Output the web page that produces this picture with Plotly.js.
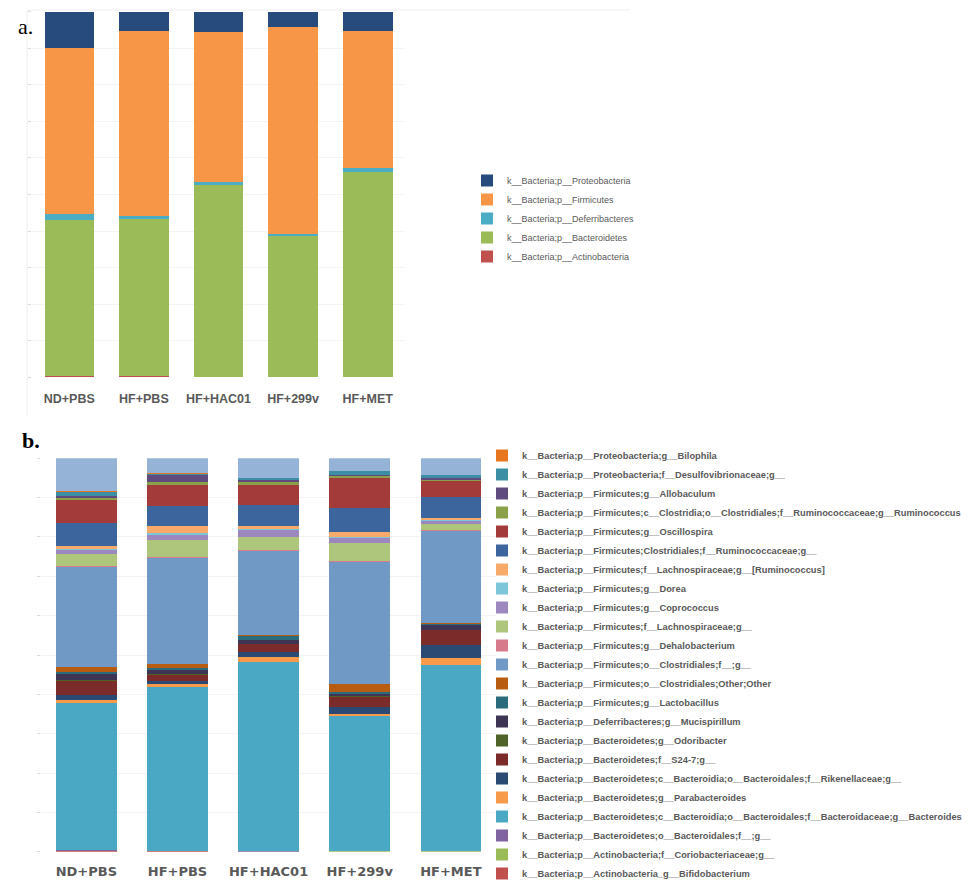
<!DOCTYPE html>
<html>
<head>
<meta charset="utf-8">
<script src="https://cdn.plot.ly/plotly-3.0.1.min.js"></script>
<style>html,body{margin:0;padding:0;background:#fff;}#chart{width:976px;height:888px;}</style>
</head>
<body>
<div id="chart"></div>
<script>
// ---------- DATA ----------
const categories = ["ND+PBS", "HF+PBS", "HF+HAC01", "HF+299v", "HF+MET"];

// Panel a (phylum level, % relative abundance), bottom -> top of stack
const phylumNames = [
  "k__Bacteria;p__Actinobacteria",
  "k__Bacteria;p__Bacteroidetes",
  "k__Bacteria;p__Deferribacteres",
  "k__Bacteria;p__Firmicutes",
  "k__Bacteria;p__Proteobacteria"
];
const actinobacteria  = [0.3, 0.3, 0.0, 0.0, 0.0];
const bacteroidetes   = [42.7, 43.0, 52.6, 38.7, 56.1];
const deferribacteres = [1.6, 0.8, 0.8, 0.6, 1.2];
const firmicutes      = [45.4, 50.6, 41.0, 56.6, 37.5];
const proteobacteria  = [10.0, 5.3, 5.6, 4.1, 5.2];

// Panel b (genus level), bottom -> top of stack
const genusNames = [
  "k__Bacteria;p__Actinobacteria_g__Bifidobacterium",
  "k__Bacteria;p__Actinobacteria;f__Coriobacteriaceae;g__",
  "k__Bacteria;p__Bacteroidetes;o__Bacteroidales;f__;g__",
  "k__Bacteria;p__Bacteroidetes;c__Bacteroidia;o__Bacteroidales;f__Bacteroidaceae;g__Bacteroides",
  "k__Bacteria;p__Bacteroidetes;g__Parabacteroides",
  "k__Bacteria;p__Bacteroidetes;c__Bacteroidia;o__Bacteroidales;f__Rikenellaceae;g__",
  "k__Bacteria;p__Bacteroidetes;f__S24-7;g__",
  "k__Bacteria;p__Bacteroidetes;g__Odoribacter",
  "k__Bacteria;p__Deferribacteres;g__Mucispirillum",
  "k__Bacteria;p__Firmicutes;g__Lactobacillus",
  "k__Bacteria;p__Firmicutes;o__Clostridiales;Other;Other",
  "k__Bacteria;p__Firmicutes;o__Clostridiales;f__;g__",
  "k__Bacteria;p__Firmicutes;g__Dehalobacterium",
  "k__Bacteria;p__Firmicutes;f__Lachnospiraceae;g__",
  "k__Bacteria;p__Firmicutes;g__Coprococcus",
  "k__Bacteria;p__Firmicutes;g__Dorea",
  "k__Bacteria;p__Firmicutes;f__Lachnospiraceae;g__[Ruminococcus]",
  "k__Bacteria;p__Firmicutes;Clostridiales;f__Ruminococcaceae;g__",
  "k__Bacteria;p__Firmicutes;g__Oscillospira",
  "k__Bacteria;p__Firmicutes;c__Clostridia;o__Clostridiales;f__Ruminococcaceae;g__Ruminococcus",
  "k__Bacteria;p__Firmicutes;g__Allobaculum",
  "k__Bacteria;p__Proteobacteria;f__Desulfovibrionaceae;g__",
  "k__Bacteria;p__Proteobacteria;g__Bilophila",
  "Other"
];
const bifidobacterium     = [0.2, 0.1, 0.0, 0.0, 0.0];
const coriobacteriaceae   = [0.1, 0.1, 0.0, 0.1, 0.1];
const bacteroidalesFG     = [0.1, 0.1, 0.1, 0.2, 0.1];
const bacteroides         = [37.5, 41.6, 48.1, 34.2, 47.3];
const parabacteroides     = [0.7, 0.8, 1.3, 0.5, 1.7];
const rikenellaceae       = [1.3, 0.8, 1.2, 1.7, 3.4];
const s24_7               = [3.6, 1.5, 2.1, 2.7, 3.7];
const odoribacter         = [0.1, 0.1, 0.1, 0.1, 0.1];
const mucispirillum       = [1.5, 1.1, 0.8, 0.6, 1.1];
const lactobacillus       = [0.6, 0.6, 1.1, 0.5, 0.4];
const clostridialesOther  = [1.3, 0.8, 0.4, 2.0, 0.2];
const clostridialesFG     = [25.4, 27.0, 21.2, 31.0, 23.3];
const dehalobacterium     = [0.2, 0.2, 0.2, 0.2, 0.4];
const lachnospiraceaeG    = [3.1, 4.5, 3.4, 4.7, 1.5];
const coprococcus         = [1.1, 1.3, 1.7, 1.3, 0.8];
const dorea               = [0.2, 0.4, 0.4, 0.2, 0.2];
const lachnoRuminococcus  = [0.6, 1.9, 0.8, 1.3, 0.4];
const ruminococcaceaeG    = [5.9, 5.1, 5.3, 6.1, 5.5];
const oscillospira        = [5.8, 5.3, 5.1, 7.6, 4.0];
const ruminococcus        = [0.5, 0.7, 0.7, 0.4, 0.4];
const allobaculum         = [0.7, 1.7, 0.4, 0.3, 0.3];
const desulfovibrionaceae = [1.0, 0.4, 0.6, 1.0, 0.8];
const bilophila           = [0.2, 0.1, 0.1, 0.1, 0.1];
const otherTop            = [8.3, 3.8, 4.9, 3.2, 4.2];

// ---------- STYLE ----------
const phylumSeries = [actinobacteria, bacteroidetes, deferribacteres, firmicutes, proteobacteria];
const phylumColors = ["#C0504D", "#9BBB59", "#4BACC6", "#F79646", "#264B7C"];

const genusSeries = [bifidobacterium, coriobacteriaceae, bacteroidalesFG, bacteroides, parabacteroides,
  rikenellaceae, s24_7, odoribacter, mucispirillum, lactobacillus, clostridialesOther, clostridialesFG,
  dehalobacterium, lachnospiraceaeG, coprococcus, dorea, lachnoRuminococcus, ruminococcaceaeG,
  oscillospira, ruminococcus, allobaculum, desulfovibrionaceae, bilophila, otherTop];
const genusColors = ["#C0504D", "#9BBB59", "#8064A2", "#4BA8C5", "#F79A4A",
  "#2A4A73", "#7A2B2A", "#4F6228", "#3E3554", "#2A6C7B", "#B85C12", "#7099C6",
  "#D77B8C", "#ADC67B", "#9C88BE", "#7DC6D9", "#F7AA6A", "#3C659D",
  "#A33B3A", "#8AA14A", "#5F4B7D", "#3C8EA5", "#E8761E", "#95B3D7"];

const W = 976, H = 888;
const px = v => v / W;
const py = v => (H - v) / H;

const traces = [];
phylumSeries.forEach((s, i) => {
  traces.push({
    type: "bar", x: categories, y: s, name: phylumNames[i],
    xaxis: "x", yaxis: "y", legend: "legend",
    marker: {color: phylumColors[i], line: {width: 0}},
    hoverinfo: "name+y"
  });
});
genusSeries.forEach((s, i) => {
  traces.push({
    type: "bar", x: categories, y: s, name: genusNames[i],
    xaxis: "x2", yaxis: "y2", legend: "legend2",
    showlegend: genusNames[i] !== "Other",
    marker: {color: genusColors[i], line: {width: 0}},
    hoverinfo: "name+y"
  });
});

const yax = (dom) => ({
  domain: dom, range: [0, 100], dtick: 10, showticklabels: false,
  ticks: "outside", ticklen: 3, tickcolor: "#D9D9D9",
  showgrid: true, gridcolor: "#F3F3F3", zeroline: false, showline: false, fixedrange: true
});

const layout = {
  width: W, height: H,
  margin: {l: 0, r: 0, t: 0, b: 0, autoexpand: false},
  paper_bgcolor: "#ffffff", plot_bgcolor: "#ffffff",
  barmode: "stack", bargap: 0.335,
  showlegend: true,
  xaxis: {
    domain: [px(32), px(405)], anchor: "y", type: "category",
    ticks: "", showline: false, showgrid: false, ticklabelstandoff: 12,
    tickfont: {family: "Liberation Sans, Arial, sans-serif", size: 12.5, color: "#595959", weight: "bold"}
  },
  yaxis: Object.assign(yax([py(377.3), py(11.7)]), {anchor: "x"}),
  xaxis2: {
    domain: [px(40.8), px(496.4)], anchor: "y2", type: "category",
    ticks: "", showline: false, showgrid: false, ticklabelstandoff: 10,
    tickfont: {family: "DejaVu Sans, sans-serif", size: 13, color: "#595959", weight: "bold"}
  },
  yaxis2: Object.assign(yax([py(851.7), py(458.3)]), {anchor: "x2"}),
  legend: {
    x: px(467), y: py(166), xanchor: "left", yanchor: "top",
    traceorder: "reversed", bgcolor: "rgba(0,0,0,0)",
    font: {family: "Liberation Sans, Arial, sans-serif", size: 9, color: "#595959"}
  },
  legend2: {
    x: px(482), y: 0, xanchor: "left", yanchor: "bottom",
    traceorder: "reversed", bgcolor: "rgba(0,0,0,0)",
    font: {family: "Liberation Sans, Arial, sans-serif", size: 9.3, color: "#595959", weight: "bold"}
  },
  annotations: [
    {text: "a.", xref: "paper", yref: "paper", x: px(16), y: py(27), xanchor: "left", yanchor: "middle",
     showarrow: false, font: {family: "Liberation Serif, serif", size: 22, color: "#000"}},
    {text: "b.", xref: "paper", yref: "paper", x: px(20), y: py(440), xanchor: "left", yanchor: "middle",
     showarrow: false, font: {family: "Liberation Serif, serif", size: 22, color: "#000", weight: "bold"}}
  ],
  shapes: [
    {type: "line", xref: "paper", yref: "paper", x0: px(27), x1: px(27), y0: py(10), y1: py(417),
     line: {color: "#EFEFEF", width: 1}},
    {type: "line", xref: "paper", yref: "paper", x0: px(27), x1: px(630), y0: py(10), y1: py(10),
     line: {color: "#EFEFEF", width: 1}}
  ]
};

Plotly.newPlot("chart", traces, layout, {displayModeBar: false, staticPlot: true});
</script>
</body>
</html>
